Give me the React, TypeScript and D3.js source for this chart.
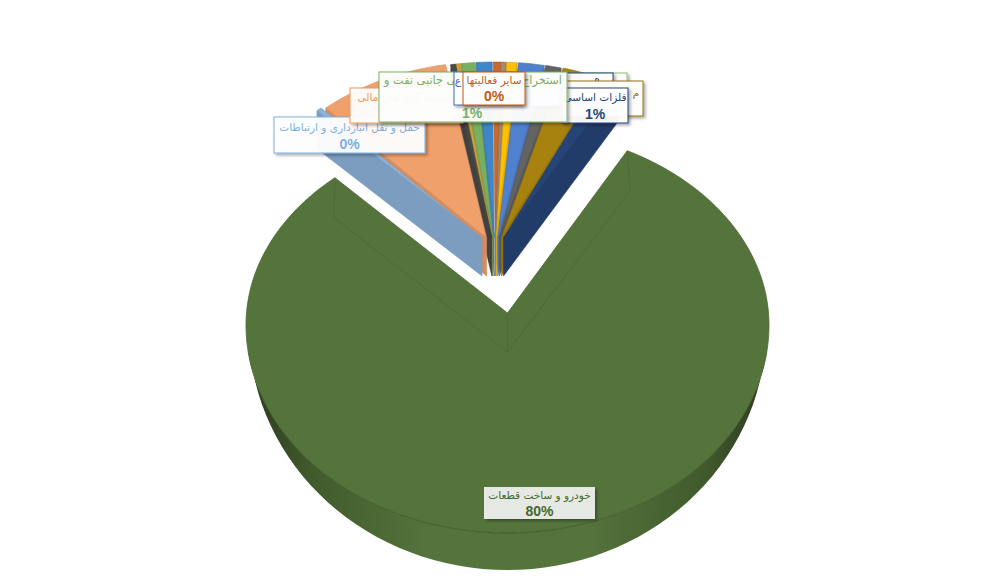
import React from 'react';
import * as d3 from 'd3';

const WIDTH = 995;
const HEIGHT = 586;

const sliceNames = ['transport', 'finance', 'dark', 'thinGold', 'mining', 'blue1', 'other', 'tan', 'gold', 'blue2', 'gray', 'olive', 'metals', 'auto'];
const sliceShares = [0.35, 8.5, 0.3, 0.3, 0.9, 1.0, 0.5, 0.3, 0.65, 1.65, 1.0, 2.5, 1.1, 81.0];
const sliceColors = ['#8db2da', '#f0a06a', '#4a4a4a', '#c9a23a', '#78b060', '#3f87c9', '#c96a2c', '#a08a70', '#ffc000', '#4f81cf', '#636363', '#a8820f', '#264478', '#55743c'];

const labelNames = ['', '', 'ه', 'م', 'فلزات اساسی', 'حمل و نقل انبارداری و ارتباطات', 'واسطه گری های مالی', 'استخراج نفت گاز و کانی جانبی نفت و', 'ع', 'سایر فعالیتها', 'خودرو و ساخت قطعات'];
const labelPercents = ['', '', '', '', '1%', '0%', '', '1%', '', '0%', '80%'];
const labelColors = ['#8cc168', '#7f7f7f', '#264478', '#997300', '#264478', '#7cafdd', '#f1975a', '#78b060', '#3f6fb5', '#c55a11', '#43682b'];
// x0, y0, x1, y1 of each label box, back to front
const labelBoxes = [
  [540, 73, 627, 106],
  [520, 76, 597, 106],
  [530, 73, 613, 106],
  [560, 81, 643, 116],
  [562, 88, 628, 123],
  [274, 117, 425, 153],
  [350, 88, 463, 123],
  [379, 72, 567, 122],
  [454, 72, 522, 105],
  [463, 72, 525, 105],
  [484, 487, 595, 519],
];
// x of the name where it does not sit at the middle of its box (most of it is hidden)
const nameX: (number | null)[] = [null, null, 597, 636, null, null, null, null, 458, null, null];
const nameY = [84, 88, 82, 96, 101, 131, 101, 84, 84, 84, 499];
const percentX: (number | null)[] = [null, null, null, null, null, null, null, 472, null, null, null];
const percentY = [0, 0, 0, 0, 119, 149, 0, 118, 0, 101, 516];

const RX = 261.5;
const RY_BACK = 196;
const RY_FRONT = 208;
const DEPTH = 38;

const pieAngles = d3.pie<number>().sort(null)
  .startAngle((-41.3 * Math.PI) / 180)
  .endAngle(((360 - 41.3) * Math.PI) / 180)(sliceShares);

const line = d3.line<[number, number]>();

function rimPoint(cx: number, cy: number, rx: number, a: number): [number, number] {
  const c = Math.cos(a);
  return [cx + rx * Math.sin(a), cy - (c > 0 ? RY_BACK : RY_FRONT) * c];
}

function arcPoints(cx: number, cy: number, rx: number, a0: number, a1: number) {
  const n = Math.max(2, Math.ceil(Math.abs(a1 - a0) * 60));
  return d3.range(n + 1).map((i) => rimPoint(cx, cy, rx, a0 + ((a1 - a0) * i) / n));
}

export default function App() {
  const small = pieAngles.slice(0, -1).map((d, i) => {
    const mid = (d.startAngle + d.endAngle) / 2;
    const ax = 495 + 20 * Math.sin(mid);
    const ay = 238;
    const cy = 258;
    const rx = 250;
    const arc = arcPoints(ax, cy, rx, d.startAngle, d.endAngle);
    // only the cut wall facing the viewer can be seen
    const wallEnd = mid < 0 ? arc[0] : arc[arc.length - 1];
    const apex: [number, number] = [ax, ay];
    const top = line([apex, ...arc]) + 'Z';
    const wall = line([apex, [ax, ay + DEPTH], [wallEnd[0], wallEnd[1] + DEPTH], wallEnd]) + 'Z';
    return { key: sliceNames[i], mid, top, wall, color: sliceColors[i] };
  });
  const leftSide = small.filter((d) => d.mid < 0).reverse();
  const rightSide = small.filter((d) => d.mid >= 0);

  const big = pieAngles[pieAngles.length - 1];
  const gx = 507.5;
  const gy = 325;
  const apexY = 313;
  const gArc = arcPoints(gx, gy, RX, big.startAngle, big.endAngle);
  const gFace = line([[gx, apexY], ...gArc]) + 'Z';
  const rimTop = arcPoints(gx, gy, RX, Math.PI * 0.54, Math.PI * 1.46);
  const rimBottom = d3.range(61).map((i): [number, number] => {
    const a = Math.PI * 1.46 - (Math.PI * 0.92 * i) / 60;
    const p = rimPoint(gx, gy, RX - 3, a);
    return [p[0], p[1] + 4 + (DEPTH - 1 - 4) * Math.abs(Math.cos(a))];
  });
  const gRim = line([...rimTop, ...rimBottom]) + 'Z';
  const leftCorner = gArc[0];
  const rightCorner = gArc[gArc.length - 1];
  const apexLow: [number, number] = [gx, apexY + 39];
  const innerLines = line([leftCorner, [leftCorner[0] + 3, leftCorner[1] + 40], apexLow, [rightCorner[0] - 1, rightCorner[1] + 40], rightCorner]) || '';
  const frontEdge = line(arcPoints(gx, gy, RX, Math.PI * 0.6, Math.PI * 1.4)) || '';

  return (
    <svg width={WIDTH} height={HEIGHT} style={{ position: 'absolute', left: 0, top: 0, background: '#fff' }}>
      <defs>
        <linearGradient id="rimFill" x1="0" x2="1" y1="0" y2="0">
          <stop offset="0" stopColor="#2c3a20" />
          <stop offset="0.12" stopColor="#415a2c" />
          <stop offset="0.35" stopColor="#55743c" />
          <stop offset="0.65" stopColor="#55743c" />
          <stop offset="0.88" stopColor="#415a2c" />
          <stop offset="1" stopColor="#2c3a20" />
        </linearGradient>
        <filter id="boxShadow" x="-10%" y="-20%" width="120%" height="150%">
          <feDropShadow dx="2" dy="2" stdDeviation="1.5" floodColor="#000" floodOpacity="0.35" />
        </filter>
      </defs>

      <path d={gRim} fill="url(#rimFill)" />
      <path d={gFace} fill={sliceColors[13]} stroke="#4c6835" strokeWidth={0.8} />
      <path d={innerLines} fill="none" stroke="#43602d" strokeWidth={0.8} opacity={0.5} />
      <path d={line([[gx, apexY], apexLow]) || ''} fill="none" stroke="#43602d" strokeWidth={0.8} opacity={0.5} />
      <path d={frontEdge} fill="none" stroke="#3d5829" strokeWidth={0.8} opacity={0.8} />

      {[...rightSide, ...leftSide].map((d) => {
        const wallColor = d3.color(d.color)!.darker(0.35).formatHex();
        return (
          <g key={d.key}>
            <path d={d.top} fill={d.color} stroke={wallColor} strokeWidth={0.6} />
            <path d={d.wall} fill={wallColor} stroke={wallColor} strokeWidth={0.6} />
          </g>
        );
      })}

      {labelBoxes.map(([x0, y0, x1, y1], i) => {
        const hasBorder = i !== labelBoxes.length - 1;
        const mid = (x0 + x1) / 2;
        return (
          <g key={i}>
            <rect x={x0} y={y0} width={x1 - x0} height={y1 - y0} fill={hasBorder ? '#fff' : '#eef0ec'} fillOpacity={0.94} stroke={hasBorder ? labelColors[i] : 'none'} strokeWidth={1} filter="url(#boxShadow)" />
            {labelNames[i] !== '' && (
              <text x={nameX[i] ?? mid} y={nameY[i]} textAnchor="middle" direction="rtl" fontFamily="'DejaVu Sans'" fontSize={i === 7 ? 11.3 : 10.5} fill={labelColors[i]}>
                {labelNames[i]}
              </text>
            )}
            {labelPercents[i] !== '' && (
              <text x={percentX[i] ?? mid} y={percentY[i]} textAnchor="middle" fontFamily="'Liberation Sans'" fontWeight="bold" fontSize={14} fill={labelColors[i]}>
                {labelPercents[i]}
              </text>
            )}
          </g>
        );
      })}
    </svg>
  );
}
